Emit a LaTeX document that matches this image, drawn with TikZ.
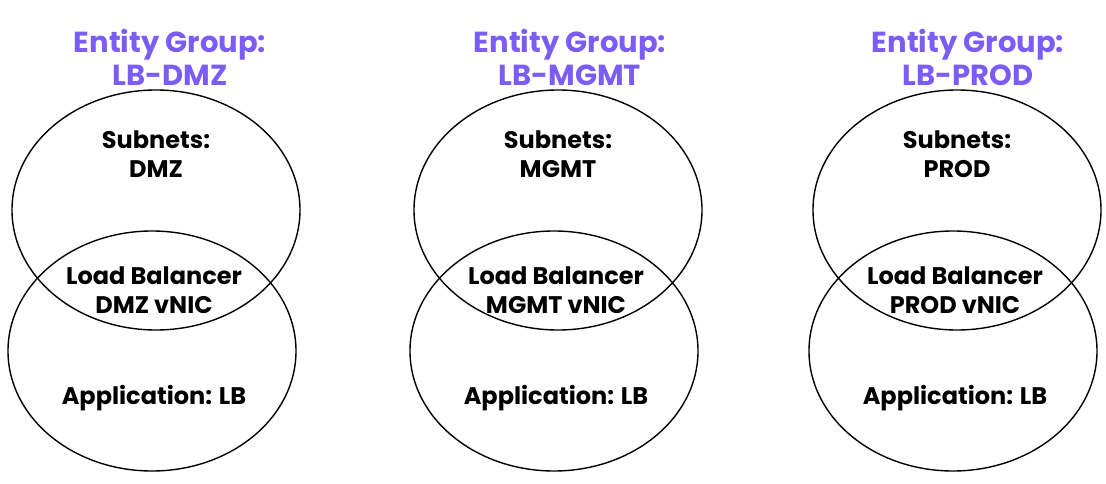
\documentclass[tikz,border=0pt]{standalone}
\usepackage{fontspec}
\setmainfont{Poppins}
\usepackage{xcolor}
\usetikzlibrary{positioning, shapes.geometric}
\definecolor{grouppurple}{HTML}{7B5CF6}
\tikzset{
    venn/.style={draw, line width=1.4pt, ellipse, minimum width=288pt, minimum height=240pt},
    grouptitle/.style={align=center, text=grouppurple, font=\fontsize{29}{33}\selectfont\bfseries},
    label/.style={align=center, font=\fontsize{24}{29}\selectfont\bfseries}
}
\begin{document}
\begin{tikzpicture}[x=1pt, y=-1pt]
    \useasboundingbox (0,0) rectangle (1106,484);
    \foreach \cx/\tx/\name in {156/170/DMZ, 558/570/MGMT, 957/968/PROD} {
        % Entity group title
        \node[grouptitle] (title\name) at (\tx, 57) {Entity Group:\\LB-\name};

        % Subnet and application ellipses
        \node[venn] (subnet\name) at (\cx, 210) {};
        \node[venn] (app\name) at (\cx-4, 351) {};

        % Labels
        \node[label] (sublabel\name) at (\cx, 154) {Subnets:\\\name};
        \node[label] (lb\name) at (\cx-2, 290) {Load Balancer\\\name\ vNIC};
        \node[label] (applabel\name) at (\cx-2, 398) {Application: LB};
    }
\end{tikzpicture}
\end{document}
